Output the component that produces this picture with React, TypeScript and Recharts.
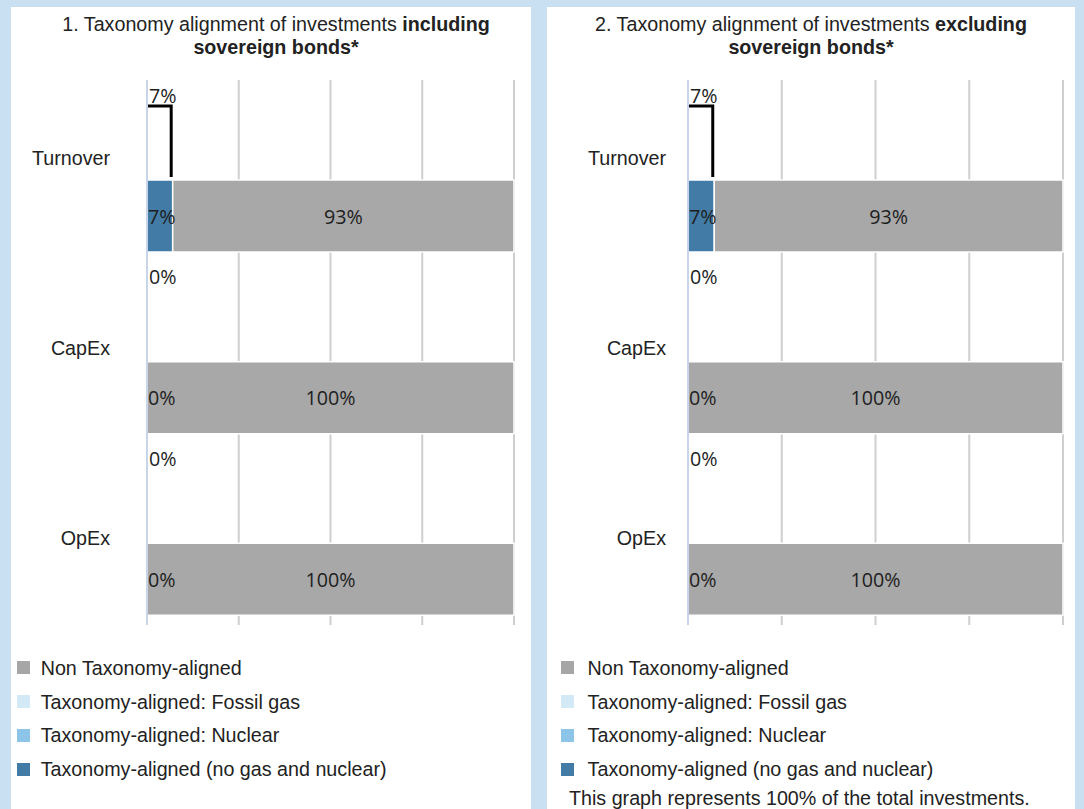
import React from 'react';
import { BarChart, Bar, XAxis, YAxis, CartesianGrid } from 'recharts';

const categories = ['Turnover', 'CapEx', 'OpEx'];
const xTicks = [0, 25, 50, 75, 100];

// 1. including sovereign bonds
const incAligned = [7, 0, 0];
const incFossilGas = [0, 0, 0];
const incNuclear = [0, 0, 0];
const incNonAligned = [93, 100, 100];

// 2. excluding sovereign bonds
const excAligned = [7, 0, 0];
const excFossilGas = [0, 0, 0];
const excNuclear = [0, 0, 0];
const excNonAligned = [93, 100, 100];

const legendLabels = [
  'Non Taxonomy-aligned',
  'Taxonomy-aligned: Fossil gas',
  'Taxonomy-aligned: Nuclear',
  'Taxonomy-aligned (no gas and nuclear)',
];
const legendColors = ['#a6a6a6', '#d3e9f6', '#8cc5e7', '#427ca6'];
const BAR_DARK = '#427ca6';
const BAR_GAS = '#d3e9f6';
const BAR_NUC = '#8cc5e7';
const BAR_GREY = '#a8a8a8';

const ARIAL = '"Liberation Sans", Arial, sans-serif';
const LABEL_FONT = '"Open Sans", sans-serif';
const FS = 19.7;
const BAR_GAP = 10;
const LABEL_COLOR = '#1e1e1e';

function buildRows(a: number[], g: number[], n: number[], non: number[]) {
  return categories.map((name, i) => ({
    name,
    aligned: a[i],
    gas: g[i],
    nuclear: n[i],
    non: non[i],
    alignedTotal: a[i] + g[i] + n[i],
  }));
}

function box(props: any) {
  const vb = props.viewBox || {};
  return {
    x: props.x ?? vb.x,
    y: props.y ?? vb.y,
    width: props.width ?? vb.width,
    height: props.height ?? vb.height,
    index: props.index,
  };
}

const makeTopLabel = (values: number[]) => (props: any) => {
  const { x, y, width, height, index } = box(props);
  const v = values[index];
  if (x == null || y == null) return null;
  return (
    <g>
      <text x={x + 2} y={y + 6} dominantBaseline="central" fontFamily={LABEL_FONT} fontSize={FS} fill={LABEL_COLOR}>
        {v}%
      </text>
      {v > 0 && (
        <path
          d={`M${x + 1},${y + 17} H${x + width - 1.5} V${y + height + BAR_GAP - 3}`}
          stroke="#000"
          strokeWidth={3}
          fill="none"
        />
      )}
    </g>
  );
};

// grey segment label: centered value, plus the aligned-share label at the start of the stack
const makeGreyLabel = (non: number[], aligned: number[], totals: number[]) => (props: any) => {
  const { x, y, width, height, index } = box(props);
  if (x == null || y == null) return null;
  const perUnit = non[index] > 0 ? width / non[index] : 0;
  const stackStart = x - totals[index] * perUnit;
  return (
    <g>
      <text x={stackStart + 1} y={y + height / 2} dominantBaseline="central" fontFamily={LABEL_FONT} fontSize={FS} fill={LABEL_COLOR}>
        {aligned[index]}%
      </text>
      <text x={x + width / 2} y={y + height / 2} textAnchor="middle" dominantBaseline="central" fontFamily={LABEL_FONT} fontSize={FS} fill={LABEL_COLOR}>
        {non[index]}%
      </text>
    </g>
  );
};

type PanelProps = {
  left: number;
  width: number;
  titleA: string;
  titleB: string;
  titleC: string;
  titleShift: number;
  aligned: number[];
  gas: number[];
  nuclear: number[];
  non: number[];
  yAxisWidth: number;
  rightMargin: number;
  labelGap: number;
  legendSquareX: number;
  legendTextX: number;
  footer?: string;
};

function Panel(p: PanelProps) {
  const rows = buildRows(p.aligned, p.gas, p.nuclear, p.non);
  const totals = rows.map((r) => r.alignedTotal);
  const legendY = [660.7, 694.7, 728, 762];
  return (
    <div
      style={{
        position: 'absolute',
        left: p.left,
        top: 7,
        width: p.width,
        height: 802,
        background: '#fff',
        overflow: 'hidden',
      }}
    >
      <div
        style={{
          position: 'absolute',
          left: p.titleShift,
          top: 5.5,
          width: p.width,
          textAlign: 'center',
          fontFamily: ARIAL,
          fontSize: FS,
          lineHeight: '23px',
          color: '#222',
        }}
      >
        {p.titleA}
        <b>{p.titleB}</b>
        <br />
        <b>{p.titleC}</b>
      </div>
      <div style={{ position: 'absolute', left: 0, top: 0 }}>
        <BarChart
          width={p.width}
          height={640}
          data={rows}
          layout="vertical"
          margin={{ top: 73, right: p.rightMargin, bottom: 22, left: 0 }}
          barGap={BAR_GAP}
        >
          <CartesianGrid horizontal={false} vertical={true} stroke="#cfcfcf" strokeWidth={2} />
          <XAxis type="number" domain={[0, 100]} ticks={xTicks} hide />
          <YAxis
            type="category"
            dataKey="name"
            width={p.yAxisWidth}
            tickLine={false}
            tickSize={0}
            tickMargin={0}
            axisLine={{ stroke: '#c7d4ea', strokeWidth: 2 }}
            tick={(t: any) => (
              <text
                x={t.x - p.labelGap}
                y={t.y - 13 + 8.4 * t.index}
                textAnchor="end"
                dominantBaseline="central"
                fontFamily={ARIAL}
                fontSize={FS}
                fill="#222"
              >
                {t.payload.value}
              </text>
            )}
          />
          <Bar
            dataKey="alignedTotal"
            stackId="top"
            barSize={81}
            minPointSize={1}
            fill="transparent"
            isAnimationActive={false}
            label={makeTopLabel(totals)}
          />
          <Bar dataKey="aligned" stackId="main" barSize={72} fill={BAR_DARK} stroke="#fff" strokeWidth={1.5} isAnimationActive={false} />
          <Bar dataKey="gas" stackId="main" barSize={72} fill={BAR_GAS} stroke="#fff" strokeWidth={1.5} isAnimationActive={false} />
          <Bar dataKey="nuclear" stackId="main" barSize={72} fill={BAR_NUC} stroke="#fff" strokeWidth={1.5} isAnimationActive={false} />
          <Bar
            dataKey="non"
            stackId="main"
            barSize={72}
            fill={BAR_GREY}
            stroke="#fff"
            strokeWidth={1.5}
            isAnimationActive={false}
            label={makeGreyLabel(p.non, p.aligned, totals)}
          />
        </BarChart>
      </div>
      {legendLabels.map((lab, i) => (
        <div key={lab}>
          <div
            style={{
              position: 'absolute',
              left: p.legendSquareX,
              top: legendY[i] - 6.5,
              width: 13,
              height: 13,
              background: legendColors[i],
            }}
          />
          <div
            style={{
              position: 'absolute',
              left: p.legendTextX,
              top: legendY[i] - 12,
              height: 24,
              lineHeight: '24px',
              fontFamily: ARIAL,
              fontSize: FS,
              color: '#222',
              whiteSpace: 'nowrap',
            }}
          >
            {lab}
          </div>
        </div>
      ))}
      {p.footer && (
        <div
          style={{
            position: 'absolute',
            left: 22,
            top: 791 - 12,
            height: 24,
            lineHeight: '24px',
            fontFamily: ARIAL,
            fontSize: FS,
            color: '#222',
            whiteSpace: 'nowrap',
          }}
        >
          {p.footer}
        </div>
      )}
    </div>
  );
}

export default function App() {
  return (
    <div
      style={{
        position: 'absolute',
        left: 0,
        top: 0,
        width: 1084,
        height: 809,
        background: '#c9dff2',
        overflow: 'hidden',
      }}
    >
      <Panel
        left={11}
        width={520}
        titleA="1. Taxonomy alignment of investments "
        titleB="including"
        titleC="sovereign bonds*"
        titleShift={5}
        aligned={incAligned}
        gas={incFossilGas}
        nuclear={incNuclear}
        non={incNonAligned}
        yAxisWidth={136}
        rightMargin={17}
        labelGap={37}
        legendSquareX={6}
        legendTextX={29.7}
      />
      <Panel
        left={547}
        width={528}
        titleA="2. Taxonomy alignment of investments "
        titleB="excluding"
        titleC="sovereign bonds*"
        titleShift={0}
        aligned={excAligned}
        gas={excFossilGas}
        nuclear={excNuclear}
        non={excNonAligned}
        yAxisWidth={141}
        rightMargin={12}
        labelGap={22}
        legendSquareX={14}
        legendTextX={40.6}
        footer="This graph represents 100% of the total investments."
      />
    </div>
  );
}
